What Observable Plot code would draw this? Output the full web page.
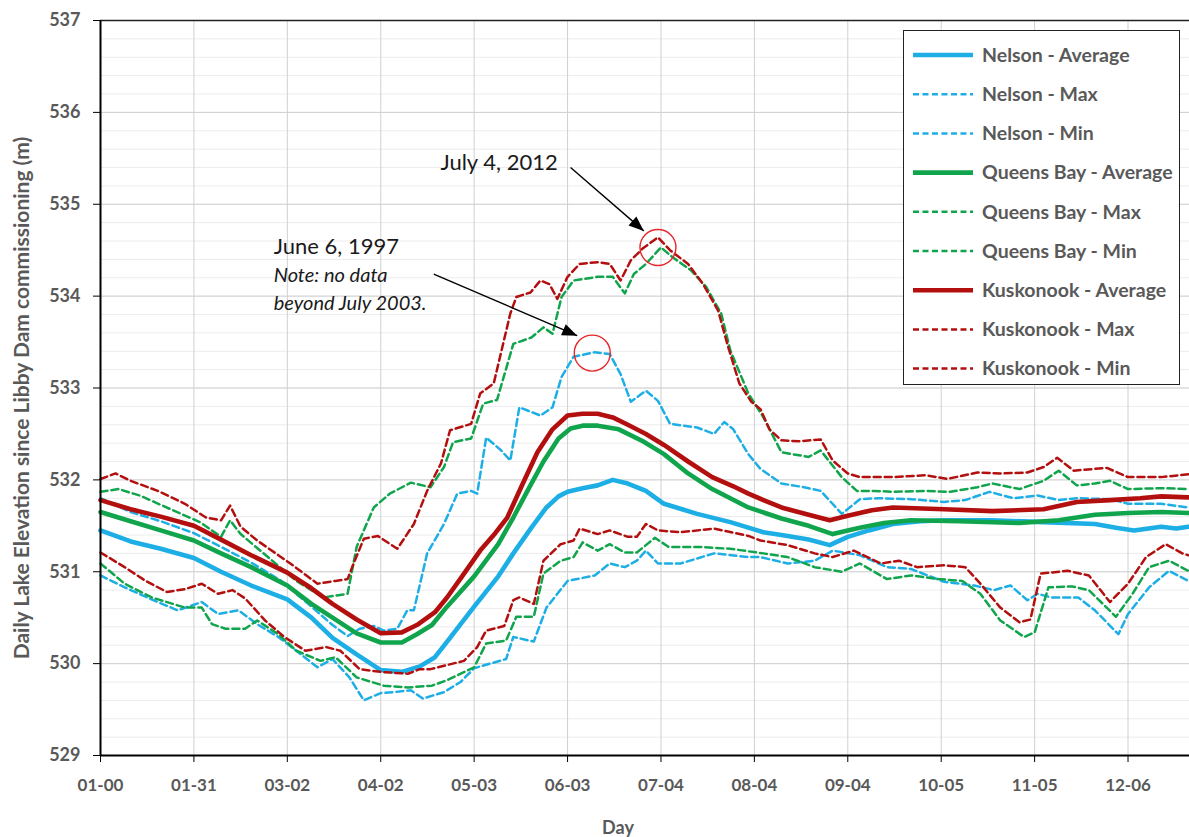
<!DOCTYPE html>
<html><head><meta charset="utf-8">
<script src="https://cdn.jsdelivr.net/npm/d3@7"></script>
<script src="https://cdn.jsdelivr.net/npm/@observablehq/plot@0.6"></script>
<style>
body{margin:0;background:#fff;}
#wrap{position:relative;width:1189px;height:837px;overflow:hidden;font-family:Lato,"Open Sans",sans-serif;background:#fff;}
#legend{position:absolute;left:903px;top:30px;width:275px;height:353px;border:1.5px solid #222;background:#fff;}
</style></head><body><div id="wrap"></div><script>
// ---- Data (day of year, elevation m) ----
const nelsonAvg = [[0,531.45],[10,531.33],[20,531.25],[31,531.15],[40,531.0],[50,530.85],[62,530.7],[70,530.5],[77,530.28],[85,530.1],[93,529.93],[100,529.91],[106,529.97],[111,530.07],[116,530.28],[124,530.62],[132,530.95],[137,531.2],[143,531.48],[148,531.7],[152,531.82],[155,531.87],[160,531.91],[165,531.94],[170,532.0],[175,531.96],[181,531.88],[187,531.74],[193,531.68],[198,531.63],[209,531.54],[215,531.48],[220,531.43],[226,531.4],[235,531.35],[242,531.29],[248,531.38],[255,531.45],[263,531.52],[272,531.55],[280,531.56],[296,531.56],[313,531.54],[330,531.52],[337,531.48],[343,531.45],[352,531.49],[357,531.47],[361,531.49]];
const nelsonMax = [[0,531.8],[10,531.65],[20,531.55],[31,531.42],[40,531.27],[50,531.1],[60,530.9],[70,530.62],[77,530.42],[82,530.3],[86,530.38],[90.7,530.41],[94,530.36],[98.5,530.38],[101.8,530.58],[104,530.58],[108.4,531.2],[114,531.52],[118.4,531.85],[123,531.88],[125,531.85],[128,532.46],[133,532.32],[136,532.21],[139,532.79],[146,532.7],[150,532.79],[153,533.12],[157,533.34],[164,533.39],[169,533.37],[172.6,533.15],[176,532.85],[181,532.97],[185,532.86],[189,532.61],[198,532.57],[203.6,532.5],[207,532.63],[210,532.55],[215,532.28],[219,532.12],[226,531.96],[233.5,531.92],[239,531.88],[246,531.63],[252,531.79],[258,531.8],[269,531.79],[280,531.76],[287,531.78],[295,531.87],[303,531.8],[311,531.83],[318,531.78],[324,531.8],[335,531.79],[341,531.74],[352,531.74],[361,531.7]];
const nelsonMin = [[0,530.96],[8,530.83],[19,530.67],[25.6,530.58],[33.6,530.67],[39,530.54],[45.8,530.58],[52,530.43],[59,530.29],[65,530.14],[72,529.96],[77,530.05],[82.6,529.85],[87.4,529.6],[93,529.68],[97.5,529.69],[103,529.71],[107,529.62],[114,529.69],[119.5,529.8],[124,529.95],[134.6,530.05],[137,530.29],[143.8,530.24],[148,530.61],[155,530.9],[164,530.96],[169,531.09],[174,531.05],[178,531.12],[181,531.23],[185,531.09],[192.5,531.09],[203.6,531.2],[215,531.16],[219,531.16],[228,531.09],[237,531.12],[243,531.23],[252,531.18],[261,531.05],[269,531.03],[280,530.89],[290,530.85],[296.5,530.8],[302,530.85],[307.6,530.69],[311,530.76],[315.6,530.72],[324.5,530.72],[330,530.58],[337.8,530.32],[341,530.54],[348,530.83],[354.6,531.01],[361,530.9]];
const queensAvg = [[0,531.65],[10,531.55],[20,531.45],[31,531.34],[40,531.2],[50,531.05],[62,530.85],[70,530.65],[77,530.5],[85,530.33],[93,530.23],[100,530.23],[105,530.32],[110,530.42],[115,530.62],[124,530.95],[132,531.3],[137,531.59],[142,531.9],[147,532.2],[152,532.45],[156,532.56],[160,532.59],[165,532.59],[172,532.55],[180,532.42],[187,532.28],[195,532.07],[203,531.9],[215,531.7],[226,531.58],[235,531.5],[243,531.41],[248,531.45],[252,531.48],[260,531.53],[269,531.56],[285,531.55],[305,531.53],[318,531.56],[330,531.62],[341,531.64],[352,531.65],[361,531.64]];
const queensMax = [[0,531.87],[6,531.9],[13,531.83],[24,531.67],[33,531.54],[40,531.38],[43,531.56],[46.5,531.41],[57,531.12],[65,530.9],[74,530.72],[82,530.76],[85,531.27],[90.7,531.7],[96,531.85],[103,531.97],[109.5,531.92],[114,532.14],[117,532.41],[123,532.45],[127,532.83],[131.6,532.87],[137,533.48],[143,533.55],[147,533.66],[150,533.59],[153,533.99],[157,534.17],[165,534.21],[170,534.21],[174,534.03],[177,534.24],[181,534.35],[186,534.53],[190,534.42],[196,534.28],[201,534.1],[206,533.81],[209,533.41],[215,532.94],[220,532.68],[226,532.3],[235,532.25],[239,532.32],[246,532.03],[251,531.88],[257,531.88],[263,531.87],[274,531.88],[282,531.87],[291,531.92],[296,531.96],[305,531.9],[313,531.99],[318,532.1],[324,531.94],[330,531.96],[335,531.99],[341,531.9],[352,531.91],[361,531.9]];
const queensMin = [[0,531.09],[8,530.87],[17,530.72],[28,530.61],[33.6,530.61],[37,530.43],[41.5,530.38],[48,530.38],[52,530.47],[59,530.32],[65,530.14],[73,530.03],[78,530.07],[85,529.85],[94,529.76],[102,529.74],[110,529.76],[115,529.82],[124,529.96],[128,530.22],[134.6,530.25],[138,530.51],[143.8,530.51],[147,530.98],[152.7,531.12],[157,531.16],[160,531.32],[165,531.23],[169,531.3],[174,531.21],[178,531.21],[184,531.37],[188.5,531.27],[198.5,531.27],[209,531.25],[220,531.2],[228,531.16],[237,531.05],[246,531.0],[252,531.09],[261,530.92],[269,530.96],[278,530.92],[286,530.9],[292,530.76],[298.6,530.47],[306.5,530.29],[310,530.34],[314.6,530.83],[322.5,530.84],[328,530.8],[337,530.51],[342.5,530.76],[348,531.05],[354.6,531.12],[361,531.01]];
const kuskAvg = [[0,531.78],[10,531.68],[20,531.6],[31,531.5],[40,531.35],[50,531.18],[62,530.99],[70,530.82],[77,530.65],[85,530.48],[93,530.33],[100,530.34],[105,530.42],[111,530.56],[115,530.72],[120,530.95],[126,531.23],[131,531.42],[135,531.59],[140,531.95],[145,532.3],[150,532.55],[155,532.7],[160,532.72],[165,532.72],[170,532.68],[175,532.6],[181,532.5],[187,532.38],[195,532.2],[203,532.03],[210,531.93],[215,531.85],[220,531.78],[226,531.7],[235,531.62],[242,531.56],[248,531.61],[256,531.67],[263,531.7],[280,531.68],[296,531.66],[313,531.68],[324,531.76],[335,531.78],[345,531.8],[352,531.82],[361,531.81]];
const kuskMax = [[0,532.01],[5,532.07],[10,531.99],[19,531.88],[28,531.74],[35,531.59],[40,531.56],[43,531.72],[46.5,531.49],[52,531.34],[63,531.09],[72,530.87],[78,530.9],[82,530.92],[84,531.09],[87.4,531.36],[92,531.39],[98.5,531.25],[104,531.52],[108.4,531.88],[113,532.18],[116,532.54],[123,532.61],[126,532.94],[130.5,533.05],[136,533.81],[138,533.99],[142.7,534.04],[146,534.17],[149,534.13],[151.6,533.97],[155,534.21],[159,534.35],[165,534.37],[169,534.35],[172.6,534.17],[176,534.39],[180,534.52],[185,534.64],[189,534.5],[195,534.35],[200,534.13],[205,533.84],[208,533.48],[212,533.05],[216,532.85],[219,532.77],[222,532.55],[226,532.43],[232,532.42],[239,532.44],[243,532.21],[248,532.07],[252,532.03],[263,532.03],[274,532.05],[281,532.01],[291,532.08],[299,532.07],[307.6,532.08],[313,532.14],[317.5,532.24],[323,532.1],[330,532.12],[334,532.13],[341,532.03],[352,532.03],[361,532.06]];
const kuskMin = [[0,531.21],[8,531.05],[15,530.9],[22,530.78],[28,530.81],[33.6,530.87],[39,530.76],[43.8,530.8],[48,530.71],[54.6,530.47],[61,530.29],[68,530.14],[75,530.18],[79.6,530.14],[86,529.94],[93,529.91],[102,529.89],[106,529.94],[109.5,529.94],[120.6,530.03],[125,530.18],[128,530.36],[134,530.41],[137,530.69],[139,530.72],[143.8,530.65],[147,531.12],[152.7,531.3],[157,531.34],[159,531.47],[165,531.41],[169,531.45],[175,531.38],[178,531.38],[181,531.52],[185,531.45],[192.5,531.43],[203.6,531.47],[215,531.39],[219,531.34],[228,531.29],[237,531.2],[243,531.16],[250,531.23],[259,531.09],[265,531.12],[271,531.05],[280,531.07],[287,531.05],[292,530.87],[298.6,530.61],[305,530.45],[308.6,530.48],[312,530.98],[321,531.01],[328,530.96],[335,530.67],[341,530.87],[347,531.16],[353.5,531.3],[359,531.2],[361,531.18]];

const xTickDays = [0,31,62,93,124,155,186,217,248,279,310,341];
const xTickLabels = ["01-00","01-31","03-02","04-02","05-03","06-03","07-04","08-04","09-04","10-05","11-05","12-06"];
const yTicks = [529,530,531,532,533,534,535,536,537];
const yMinorTicks = d3.range(529, 537.001, 0.2).map(v => +v.toFixed(1));

// annotations (data coordinates)
const notesRegular = [
  {text:"July 4, 2012", day:112.8, elev:535.45},
  {text:"June 6, 1997", day:57.5, elev:534.54}
];
const notesItalic = [
  {text:"Note: no data", day:57.5, elev:534.22},
  {text:"beyond July 2003.", day:57.5, elev:533.92}
];
const arrows = [
  {x1:156, y1:535.40, x2:180.3, y2:534.71},
  {x1:110.6, y1:534.24, x2:158.2, y2:533.57}
];
const circles = [
  {day:185, elev:534.53},
  {day:163.2, elev:533.38}
];

const BLUE="#1eaee6", GREEN="#10a54c", RED="#b30f0f";
const series = [
  {name:"Nelson - Average", data:nelsonAvg, color:BLUE, dash:null},
  {name:"Nelson - Max", data:nelsonMax, color:BLUE, dash:"7,4"},
  {name:"Nelson - Min", data:nelsonMin, color:BLUE, dash:"7,4"},
  {name:"Queens Bay - Average", data:queensAvg, color:GREEN, dash:null},
  {name:"Queens Bay - Max", data:queensMax, color:GREEN, dash:"7,4"},
  {name:"Queens Bay - Min", data:queensMin, color:GREEN, dash:"7,4"},
  {name:"Kuskonook - Average", data:kuskAvg, color:RED, dash:null},
  {name:"Kuskonook - Max", data:kuskMax, color:RED, dash:"7,4"},
  {name:"Kuskonook - Min", data:kuskMin, color:RED, dash:"7,4"}
];

const W=1189, H=837, mL=100, mT=20, mR=0, mB=82;
const xDomain=[0,361.4], yDomain=[529,537];
const kx=(W-mL-mR)/(xDomain[1]-xDomain[0]);
const ky=(H-mT-mB)/(yDomain[1]-yDomain[0]);
arrows.forEach(a => { a.rot = Math.atan2((a.x2-a.x1)*kx, (a.y2-a.y1)*ky)*180/Math.PI; });

const headShape = {
  draw(context, l) {
    context.moveTo(0, -l);
    context.lineTo(-6, -l + 15);
    context.lineTo(6, -l + 15);
    context.closePath();
  }
};

const FONT = "Lato, 'Open Sans', sans-serif";
const lineMarks = series.map(s => Plot.line(s.data, {
  x: d => d[0], y: d => d[1],
  stroke: s.color,
  strokeWidth: s.dash ? 2.5 : 4.6,
  strokeDasharray: s.dash || undefined,
  strokeLinejoin: "round",
  curve: "linear"
}));

const chart = Plot.plot({
  width: W, height: H,
  marginLeft: mL, marginTop: mT, marginRight: mR, marginBottom: mB,
  x: {domain: xDomain},
  y: {domain: yDomain},
  style: {fontFamily: FONT, fontSize: "17px", background: "white", overflow: "hidden"},
  marks: [
    Plot.gridY(yMinorTicks, {stroke:"#ececec", strokeOpacity:1, strokeWidth:1}),
    Plot.gridY(yTicks, {stroke:"#d0d0d0", strokeOpacity:1, strokeWidth:1}),
    Plot.gridX(xTickDays, {stroke:"#d0d0d0", strokeOpacity:1, strokeWidth:1}),
    ...lineMarks,
    Plot.ruleY([537], {stroke:"#222", strokeWidth:1.5}),
    Plot.axisX(xTickDays, {tickFormat: d => xTickLabels[xTickDays.indexOf(d)], tickSize:7, tickPadding:16, stroke:"#000", fill:"#595959", fontWeight:"bold", fontSize:17, label:null}),
    Plot.axisY(yTicks, {tickFormat: d3.format("d"), tickSize:7, tickPadding:13, stroke:"#000", fill:"#595959", fontWeight:"bold", fontSize:18, label:null}),
    Plot.text(["Daily Lake Elevation since Libby Dam commissioning (m)"], {frameAnchor:"left", dx:-78, dy:10, rotate:-90, fill:"#595959", fontWeight:"bold", fontSize:21, lineAnchor:"middle", textAnchor:"middle"}),
    Plot.ruleX([0], {stroke:"#000", strokeWidth:2}),
    Plot.ruleY([529], {stroke:"#000", strokeWidth:2}),
    Plot.text(["Day"], {frameAnchor:"bottom", dy:73, dx:-27, fill:"#595959", fontWeight:"bold", fontSize:18, lineAnchor:"middle"}),
    Plot.dot(circles, {x:"day", y:"elev", r:18, stroke:"#e8262a", strokeWidth:1.4, fill:"none"}),
    Plot.link(arrows, {x1:"x1", y1:"y1", x2:"x2", y2:"y2", stroke:"#000", strokeWidth:1.4}),
    Plot.vector(arrows, {x:"x2", y:"y2", rotate:"rot", length:15, anchor:"end", shape:headShape, fill:"#000", stroke:"none"}),
    Plot.text(notesRegular, {x:"day", y:"elev", text:"text", textAnchor:"start", lineAnchor:"middle", fill:"#1a1a1a", fontSize:22}),
    Plot.text(notesItalic, {x:"day", y:"elev", text:"text", textAnchor:"start", lineAnchor:"middle", fill:"#1a1a1a", fontSize:20, fontStyle:"italic"})
  ]
});
const wrap = document.getElementById("wrap");
wrap.appendChild(chart);

// legend
const legend = d3.select(wrap).append("div").attr("id","legend");
const lsvg = legend.append("svg").attr("width",275).attr("height",353);
series.forEach((s,i) => {
  const y = 24 + i*39.2;
  lsvg.append("line").attr("x1",9).attr("x2",69).attr("y1",y).attr("y2",y)
    .attr("stroke",s.color).attr("stroke-width", s.dash ? 2.5 : 4.6)
    .attr("stroke-dasharray", s.dash ? "6,3.5" : null);
  lsvg.append("text").attr("x",78).attr("y",y).attr("dy","0.35em")
    .attr("fill","#595959").attr("font-weight","bold").attr("font-size","19.5px")
    .attr("font-family",FONT).text(s.name);
});
</script></body></html>
